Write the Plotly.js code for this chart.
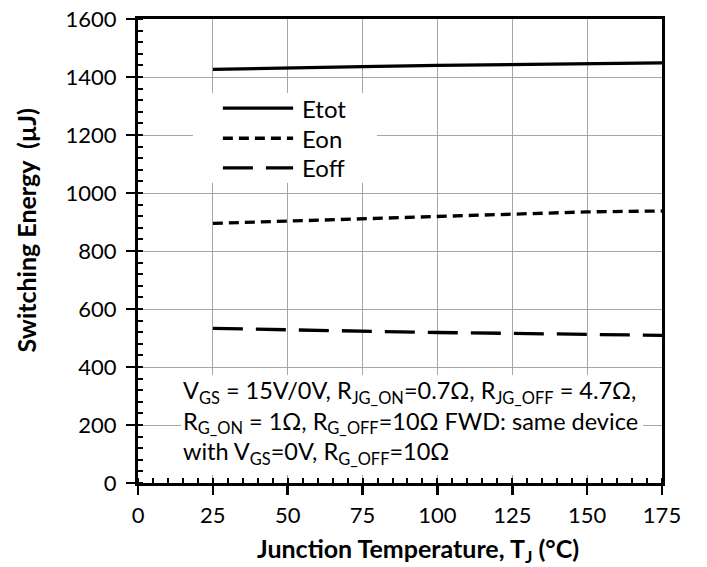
<!DOCTYPE html>
<html>
<head>
<meta charset="utf-8">
<script src="https://cdn.plot.ly/plotly-3.0.1.min.js"></script>
<style>
  html, body { margin: 0; padding: 0; background: #fff; }
  #chart { width: 707px; height: 567px; }
</style>
</head>
<body>
<div id="chart"></div>
<script>
// Junction temperature (°C)
const tj = [25, 50, 75, 100, 125, 150, 175];
// Switching energies (µJ)
const eTot = [1426, 1432, 1436, 1440, 1443, 1448, 1449];
const eOn  = [895, 903, 913, 920, 928, 935, 938];
const eOff = [533, 528, 524, 519, 516, 512, 509];

const seriesNames = ['Etot', 'Eon', 'Eoff'];
const seriesDash = ['solid', '10px,6px', '30px,13px'];

const xTicks = [0, 25, 50, 75, 100, 125, 150, 175];
const yTicks = [0, 200, 400, 600, 800, 1000, 1200, 1400, 1600];

const FONT = 'Lato, "Open Sans", sans-serif';
const LINE_W = 3.3;

const lineStyle = (i) => ({ color: '#000', width: LINE_W, dash: seriesDash[i] });

const traces = [eTot, eOn, eOff].map((ys, i) => ({
  x: tj, y: ys, name: seriesNames[i], mode: 'lines', line: lineStyle(i), showlegend: false
}));

const axisCommon = {
  showline: true, linecolor: '#000', linewidth: 3, mirror: true,
  showgrid: true, gridcolor: '#a6a6a6', gridwidth: 1,
  zeroline: false,
  ticks: 'outside', ticklen: 9, tickwidth: 2.5, tickcolor: '#000',
  tickfont: { family: FONT, size: 22, color: '#000' },
  fixedrange: true
};

// Legend drawn as a white panel with sample lines and labels (paper coordinates)
const legendX0 = 0.162, legendX1 = 0.296, legendTextX = 0.309;
const legendRows = [0.808, 0.743, 0.679];

const shapes = [
  { type: 'rect', xref: 'paper', yref: 'paper', x0: 0.105, x1: 0.456, y0: 0.647, y1: 0.8405,
    fillcolor: '#fff', line: { width: 0 }, layer: 'above' },
  { type: 'rect', xref: 'paper', yref: 'paper', x0: 0.082, x1: 0.964, y0: 0.017, y1: 0.233,
    fillcolor: '#fff', line: { width: 0 }, layer: 'above' }
];
const annotations = [];

seriesNames.forEach((nm, i) => {
  shapes.push({
    type: 'line', xref: 'paper', yref: 'paper',
    x0: legendX0, x1: legendX1, y0: legendRows[i], y1: legendRows[i],
    line: lineStyle(i), layer: 'above'
  });
  annotations.push({
    xref: 'paper', yref: 'paper', x: legendTextX, y: legendRows[i],
    xanchor: 'left', yanchor: 'middle', showarrow: false,
    font: { family: FONT, size: 24, color: '#000' }, text: nm
  });
});

// Test conditions note
annotations.push({
  xref: 'paper', yref: 'paper', x: 0.083, y: 0.234, xanchor: 'left', yanchor: 'top',
  align: 'left', showarrow: false,
  font: { family: FONT, size: 23.5, color: '#000' },
  text: 'V<sub>GS</sub> = 15V/0V, R<sub>JG_ON</sub>=0.7Ω, R<sub>JG_OFF</sub> = 4.7Ω,<br>' +
        'R<sub>G_ON</sub> = 1Ω, R<sub>G_OFF</sub>=10Ω FWD: same device<br>' +
        'with V<sub>GS</sub>=0V, R<sub>G_OFF</sub>=10Ω'
});

// Axis titles
annotations.push({
  xref: 'paper', yref: 'paper', x: 0.534, y: -0.145, xanchor: 'center', yanchor: 'middle',
  showarrow: false, font: { family: FONT, size: 25, color: '#000' },
  text: '<b>Junction Temperature, T<sub>J</sub> (°C)</b>'
});
annotations.push({
  xref: 'paper', yref: 'paper', x: -0.213, y: 0.545, xanchor: 'center', yanchor: 'middle',
  textangle: -90, showarrow: false, font: { family: FONT, size: 25, color: '#000' },
  text: '<b>Switching Energy  (µJ)</b>'
});

const layout = {
  width: 707, height: 567,
  margin: { l: 138, r: 45, t: 19, b: 84 },
  paper_bgcolor: '#fff', plot_bgcolor: '#fff',
  font: { family: FONT, color: '#000' },
  showlegend: false,
  xaxis: Object.assign({}, axisCommon, {
    range: [0, 175], tickvals: xTicks, ticktext: xTicks.map(String),
    ticklabelstandoff: 2,
    minor: { dtick: 5, ticks: 'inside', ticklen: 5, tickwidth: 2, tickcolor: '#000', showgrid: false }
  }),
  yaxis: Object.assign({}, axisCommon, {
    range: [0, 1600], tickvals: yTicks, ticktext: yTicks.map(String),
    ticklabelstandoff: 5,
    minor: { dtick: 40, ticks: 'inside', ticklen: 5, tickwidth: 2, tickcolor: '#000', showgrid: false }
  }),
  shapes: shapes,
  annotations: annotations
};

Plotly.newPlot('chart', traces, layout, { displayModeBar: false, staticPlot: true });
</script>
</body>
</html>
